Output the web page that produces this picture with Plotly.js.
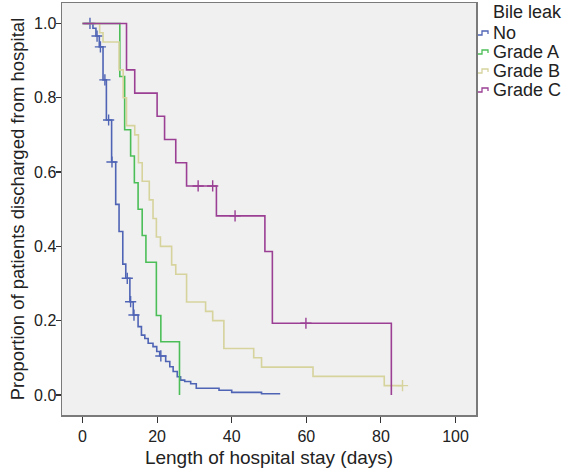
<!DOCTYPE html>
<html>
<head>
<meta charset="utf-8">
<script src="https://cdn.plot.ly/plotly-3.0.1.min.js"></script>
<style>html,body{margin:0;padding:0;background:#fff;}#chart{width:576px;height:475px;}</style>
</head>
<body>
<div id="chart"></div>
<script>
// ---- data ----
const groupNames = ["No", "Grade A", "Grade B", "Grade C"];
const legendTitle = "Bile leak";

const noTime = [0, 2.8, 3.6, 4.5, 5.5, 6.4, 7.8, 8.9, 9.8, 10.8, 11.6, 12.7, 13.6, 14.9, 15.8, 16.7, 17.6, 18.9, 19.9, 20.7, 22.3, 23.4, 24.3, 25.4, 26.3, 27.4, 29, 30.5, 36.6, 40, 48, 53];
const noSurv = [1, 0.987, 0.966, 0.937, 0.848, 0.74, 0.627, 0.513, 0.44, 0.352, 0.314, 0.251, 0.215, 0.184, 0.161, 0.152, 0.139, 0.13, 0.117, 0.105, 0.09, 0.076, 0.063, 0.049, 0.04, 0.036, 0.03, 0.018, 0.0125, 0.007, 0.003, 0.003];
const noCensTime = [2, 3.9, 4.8, 6, 7, 7.9, 12, 12.9, 13.8, 21];
const noCensSurv = [1, 0.966, 0.937, 0.848, 0.74, 0.627, 0.314, 0.251, 0.215, 0.105];

const aTime = [0, 10, 11.3, 12.9, 13.9, 14.9, 16, 17, 19.8, 21, 26];
const aSurv = [1, 0.857, 0.714, 0.643, 0.571, 0.5, 0.429, 0.357, 0.214, 0.143, 0];
const aCensTime = [];
const aCensSurv = [];

const bTime = [0, 4.6, 5.5, 9.8, 10.9, 11.8, 14, 15, 16, 17.9, 18.9, 19.8, 20.9, 23.9, 25, 27.9, 33, 34.9, 37.9, 45.9, 48, 61.8, 80.9, 85.8];
const bSurv = [1, 0.975, 0.95, 0.875, 0.8, 0.725, 0.7, 0.625, 0.575, 0.525, 0.475, 0.425, 0.4, 0.35, 0.325, 0.25, 0.225, 0.2, 0.125, 0.1, 0.075, 0.05, 0.025, 0.025];
const bCensTime = [85.8];
const bCensSurv = [0.025];

const cTime = [0, 11.8, 14, 20, 22, 25, 27.9, 35.9, 48.9, 50.9, 82.8];
const cSurv = [1, 0.875, 0.8125, 0.75, 0.6875, 0.625, 0.5625, 0.482, 0.386, 0.193, 0];
const cCensTime = [31, 34.9, 40.9, 59.9];
const cCensSurv = [0.5625, 0.5625, 0.482, 0.193];

const xTickVals = [0, 20, 40, 60, 80, 100];
const yTickVals = [0, 0.2, 0.4, 0.6, 0.8, 1.0];
const yTickText = ["0.0", "0.2", "0.4", "0.6", "0.8", "1.0"];

// ---- styling ----
const colors = ["#4f64b5", "#4cbe58", "#d6d39c", "#9a3f94"];
const font = "'Liberation Sans', Arial, Helvetica, sans-serif";
const textColor = "#222222";

const series = [
  [noTime, noSurv, noCensTime, noCensSurv],
  [aTime, aSurv, aCensTime, aCensSurv],
  [bTime, bSurv, bCensTime, bCensSurv],
  [cTime, cSurv, cCensTime, cCensSurv]
];

const traces = [];
series.forEach((s, i) => {
  traces.push({
    type: "scatter", mode: "lines", name: groupNames[i],
    x: s[0], y: s[1],
    line: {color: colors[i], width: 1.6, shape: "hv"},
    showlegend: false, hoverinfo: "skip"
  });
  if (s[2].length) {
    traces.push({
      type: "scatter", mode: "markers", name: groupNames[i] + " censored",
      x: s[2], y: s[3],
      marker: {symbol: "cross-thin", size: 8, line: {color: colors[i], width: 1.4}, color: colors[i]},
      showlegend: false, hoverinfo: "skip"
    });
  }
});

// plot area geometry (px)
const W = 576, H = 475;
const mL = 62, mR = 100, mT = 3, mB = 60;
const pw = W - mL - mR, ph = H - mT - mB;
const px2x = p => (p - mL) / pw;
const px2y = p => (H - mB - p) / ph;

// manual legend (step-shaped keys like the reference)
const legX = 478, legTextX = 491;
const legRows = [33, 52, 71, 90];
const shapes = [];
const annotations = [{
  xref: "paper", yref: "paper", x: px2x(legTextX), y: px2y(12),
  xanchor: "left", yanchor: "middle", showarrow: false,
  text: legendTitle, font: {family: font, size: 18, color: textColor}
}];
groupNames.forEach((g, i) => {
  const yc = legRows[i];
  const pts = [[legX, yc + 2], [legX + 4, yc + 2], [legX + 4, yc - 2], [legX + 10, yc - 2], [legX + 10, yc + 1]];
  const path = pts.map((p, k) => (k ? "L" : "M") + px2x(p[0]).toFixed(5) + "," + px2y(p[1]).toFixed(5)).join(" ");
  shapes.push({type: "path", xref: "paper", yref: "paper", path: path, line: {color: colors[i], width: 1.3}});
  annotations.push({
    xref: "paper", yref: "paper", x: px2x(legTextX), y: px2y(yc),
    xanchor: "left", yanchor: "middle", showarrow: false,
    text: g, font: {family: font, size: 18, color: textColor}
  });
});

const layout = {
  width: W, height: H,
  margin: {l: mL, r: mR, t: mT, b: mB},
  paper_bgcolor: "#ffffff",
  plot_bgcolor: "#f0f0f0",
  font: {family: font, color: textColor, size: 16},
  showlegend: false,
  xaxis: {
    range: [-5.5, 105.5], tickvals: xTickVals, ticks: "outside", ticklen: 6, tickwidth: 1.2, tickcolor: "#333",
    showline: true, mirror: true, linecolor: "#7a7a7a", linewidth: 1.5,
    showgrid: false, zeroline: false,
    tickfont: {family: font, size: 16, color: textColor},
    title: {text: "Length of hospital stay (days)", font: {family: font, size: 19, color: textColor}, standoff: 7}
  },
  yaxis: {
    range: [-0.054, 1.055], tickvals: yTickVals, ticktext: yTickText, ticks: "outside", ticklen: 5, tickwidth: 1.2, tickcolor: "#333",
    ticklabelstandoff: -4,
    showline: true, mirror: true, linecolor: "#7a7a7a", linewidth: 1.5,
    showgrid: false, zeroline: false,
    tickfont: {family: font, size: 16, color: textColor},
    title: {text: "Proportion of patients discharged from hospital", font: {family: font, size: 18.5, color: textColor}, standoff: 4}
  },
  shapes: shapes,
  annotations: annotations
};

Plotly.newPlot("chart", traces, layout, {staticPlot: true, displayModeBar: false});
</script>
</body>
</html>
